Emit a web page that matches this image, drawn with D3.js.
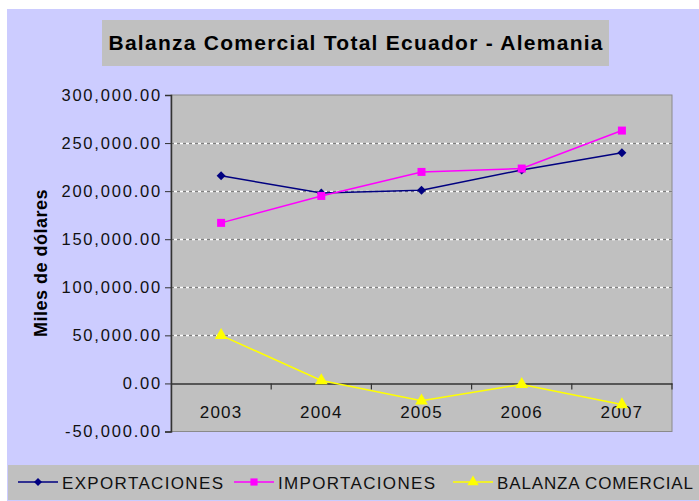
<!DOCTYPE html>
<html lang="es">
<head>
<meta charset="UTF-8"/>
<title>Balanza Comercial Total Ecuador - Alemania</title>
<script src="https://d3js.org/d3.v7.min.js"></script>
<style>
    html, body { margin: 0; padding: 0; background: #fff; }
    svg { display: block; font-family: "Liberation Sans", Arial, sans-serif; }
</style>
</head>
<body>
<div id="chart"></div>
<script>
    // Data (miles de dólares)
    const years = ["2003", "2004", "2005", "2006", "2007"];
    const exportaciones = [216000, 198000, 201000, 222000, 240000];
    const importaciones = [167000, 195000, 220000, 223500, 263000];
    const balanza = [50000, 3000, -18000, -1000, -22000];
    const yTicks = [-50000, 0, 50000, 100000, 150000, 200000, 250000, 300000];
    const seriesNames = ["EXPORTACIONES", "IMPORTACIONES", "BALANZA COMERCIAL"];

    const w = 699, h = 501;
    const plot = { left: 171, right: 672, top: 95, bottom: 431.5 };

    const svg = d3.select("#chart").append("svg")
        .attr("width", w)
        .attr("height", h);

    // chart area background
    svg.append("rect").attr("x", 0).attr("y", 0).attr("width", w).attr("height", h).attr("fill", "#fff");
    svg.append("rect").attr("x", 7).attr("y", 9).attr("width", w - 7).attr("height", h - 9).attr("fill", "#CCCCFF");

    // title box
    svg.append("rect").attr("x", 102).attr("y", 20).attr("width", 507).attr("height", 46).attr("fill", "#C0C0C0");
    svg.append("text")
        .attr("x", 355.5).attr("y", 50)
        .attr("text-anchor", "middle")
        .attr("font-size", "21px")
        .attr("font-weight", "bold")
        .attr("textLength", 494)
        .attr("lengthAdjust", "spacing")
        .text("Balanza Comercial Total Ecuador - Alemania");

    // scales
    const x = d3.scaleBand().domain(years).range([plot.left, plot.right]);
    const y = d3.scaleLinear().domain([-50000, 300000]).range([plot.bottom, plot.top]);

    // plot area
    svg.append("rect")
        .attr("x", plot.left).attr("y", plot.top)
        .attr("width", plot.right - plot.left).attr("height", plot.bottom - plot.top)
        .attr("fill", "#C0C0C0")
        .attr("stroke", "#8a8a8a")
        .attr("stroke-width", 1);

    // gridlines (dashed)
    const grid = yTicks.filter(d => d > 0 && d < 300000);
    svg.selectAll(".grid-w").data(grid).enter().append("line")
        .attr("x1", plot.left).attr("x2", plot.right)
        .attr("y1", d => Math.round(y(d)) + 0.5).attr("y2", d => Math.round(y(d)) + 0.5)
        .attr("stroke", "#ffffff").attr("stroke-width", 1.5);
    svg.selectAll(".grid-g").data(grid).enter().append("line")
        .attr("x1", plot.left).attr("x2", plot.right)
        .attr("y1", d => Math.round(y(d)) + 0.5).attr("y2", d => Math.round(y(d)) + 0.5)
        .attr("stroke", "#808080").attr("stroke-width", 1.5)
        .attr("stroke-dasharray", "3,3");

    // y axis
    const fmt = d3.format(",.2f");
    const yAxis = svg.append("g")
        .attr("transform", `translate(${plot.left},0)`)
        .call(d3.axisLeft(y).tickValues(yTicks).tickSize(6).tickPadding(3)
            .tickFormat(d => fmt(d).replace("\u2212", "-")));
    yAxis.select(".domain").attr("stroke", "#333").attr("stroke-width", 1.5);
    yAxis.selectAll(".tick line").attr("stroke", "#333");
    yAxis.selectAll(".tick text")
        .attr("font-size", "16.5px")
        .attr("letter-spacing", "1.8px")
        .attr("fill", "#111")
        .attr("font-family", "\"Liberation Sans\", Arial, sans-serif");

    // x axis on zero line
    const xAxis = svg.append("g")
        .attr("transform", `translate(0,${y(0)})`)
        .call(d3.axisBottom(x).tickSize(0).tickPadding(23));
    xAxis.select(".domain").attr("stroke", "#333").attr("stroke-width", 1.5);
    xAxis.selectAll(".tick text")
        .attr("font-size", "17px")
        .attr("letter-spacing", "1.2px")
        .attr("fill", "#111")
        .attr("font-family", "\"Liberation Sans\", Arial, sans-serif");
    // category boundary ticks
    svg.selectAll(".cat-tick").data(years).enter().append("line")
        .attr("x1", d => x(d) + x.bandwidth())
        .attr("x2", d => x(d) + x.bandwidth())
        .attr("y1", y(0)).attr("y2", y(0) + 6)
        .attr("stroke", "#333").attr("stroke-width", 1.2);

    const cx = d => x(d) + x.bandwidth() / 2;
    const line = d3.line().x(d => cx(d.year)).y(d => y(d.value));

    const series = [
        { name: seriesNames[0], values: exportaciones, color: "#000080", symbol: d3.symbolSquare, size: 40, rot: 45 },
        { name: seriesNames[1], values: importaciones, color: "#FF00FF", symbol: d3.symbolSquare, size: 64, rot: 0 },
        { name: seriesNames[2], values: balanza, color: "#FFFF00", symbol: d3.symbolTriangle, size: 70, rot: 0 }
    ];

    series.forEach(s => {
        const pts = years.map((yr, i) => ({ year: yr, value: s.values[i] }));
        svg.append("path")
            .datum(pts)
            .attr("fill", "none")
            .attr("stroke", s.color)
            .attr("stroke-width", 1.5)
            .attr("d", line);
        svg.selectAll(null).data(pts).enter().append("path")
            .attr("transform", d => `translate(${cx(d.year)},${y(d.value)}) rotate(${s.rot})`)
            .attr("d", d3.symbol().type(s.symbol).size(s.size))
            .attr("fill", s.color);
    });

    // y axis title
    svg.append("text")
        .attr("transform", "translate(47,263) rotate(-90)")
        .attr("text-anchor", "middle")
        .attr("font-size", "18px")
        .attr("font-weight", "bold")
        .attr("letter-spacing", "0.5px")
        .text("Miles de dólares");

    // legend
    svg.append("rect").attr("x", 8).attr("y", 465).attr("width", w - 8).attr("height", 35).attr("fill", "#C0C0C0");
    const legendX = [18, 234, 453];
    const legendTextW = [161, 157, 196];
    const legend = svg.selectAll(".legend").data(series).enter().append("g")
        .attr("transform", (d, i) => `translate(${legendX[i]},482)`);
    legend.append("line")
        .attr("x1", 0).attr("x2", 40).attr("y1", 0).attr("y2", 0)
        .attr("stroke", d => d.color).attr("stroke-width", 1.5);
    legend.append("path")
        .attr("transform", d => `translate(20,0) rotate(${d.rot})`)
        .attr("d", d => d3.symbol().type(d.symbol).size(d.size * 0.8)())
        .attr("fill", d => d.color);
    legend.append("text")
        .attr("x", 44).attr("y", 6.5)
        .attr("font-size", "17px")
        .attr("textLength", (d, i) => legendTextW[i])
        .attr("lengthAdjust", "spacing")
        .attr("fill", "#111")
        .text(d => d.name);
</script>
</body>
</html>
